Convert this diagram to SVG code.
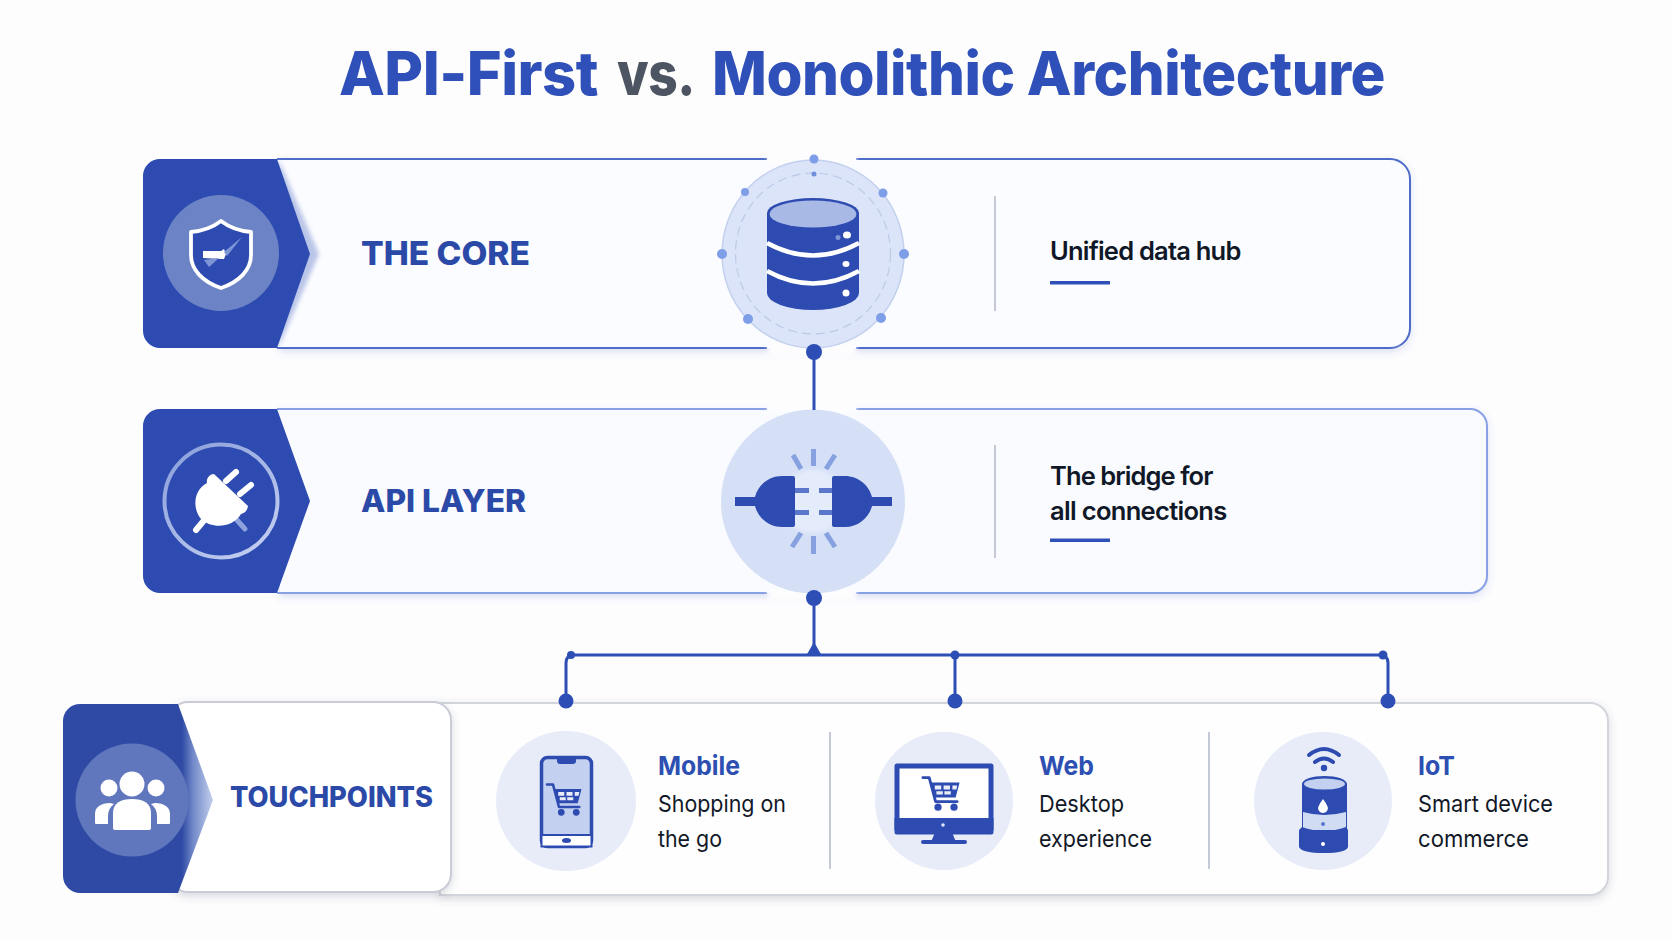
<svg xmlns="http://www.w3.org/2000/svg" width="1672" height="941" viewBox="0 0 1672 941">
<style>
text{font-family:Inter,"Liberation Sans",sans-serif}
.title{font-size:60px;font-weight:800;fill:#2f50b8;letter-spacing:-.5px}
.lab{font-weight:800;fill:#2b4aa8}
.desc{font-size:25.5px;font-weight:600;fill:#101828;letter-spacing:-.3px}
.h{font-size:26px;font-weight:700;fill:#2d4fb2}
.sub{font-size:23.5px;font-weight:400;fill:#111827}
.blue{fill:#2d4bb0}
.div{stroke:#c4c9d6;stroke-width:2}
.con{stroke:#2d4fb5;stroke-width:3;fill:none}
.dot{fill:#2d4fb5}
.nd{fill:#7f9ee8}
.ray{stroke:#86a0e0;stroke-width:5;stroke-linecap:butt}
.und{fill:#2f50b8}
.gap{fill:#fdfdfe}
</style>
<defs>
<filter id="sh" x="-5%" y="-10%" width="110%" height="125%"><feDropShadow dx="0" dy="3" stdDeviation="4" flood-color="#3f5cb8" flood-opacity=".22"/></filter>
<filter id="sg" x="-5%" y="-10%" width="110%" height="125%"><feDropShadow dx="0" dy="3" stdDeviation="4" flood-color="#50566a" flood-opacity=".22"/></filter>
<filter id="b2" x="-20%" y="-60%" width="140%" height="220%"><feGaussianBlur stdDeviation="2"/></filter>
<linearGradient id="fade" gradientUnits="userSpaceOnUse" x1="182" y1="0" x2="213" y2="0"><stop offset="0" stop-color="#2f4aa4"/><stop offset=".35" stop-color="#7088c8"/><stop offset="1" stop-color="#c3cfec"/></linearGradient>
<linearGradient id="ring" gradientUnits="userSpaceOnUse" x1="180" y1="450" x2="262" y2="552"><stop offset="0" stop-color="#8ea2dc"/><stop offset="1" stop-color="#c2cdf0"/></linearGradient>
<g id="cart">
<path d="M-24-18h8l8 30h27" fill="none" stroke="#2d4bb0" stroke-width="3.5" stroke-linecap="round" stroke-linejoin="round"/>
<path d="M-14-12h36l-5 19h-26z" fill="#2d4bb0"/>
<path d="M-9-8h8v5h-8zM2-8h8v5h-8zM13-8h6l-1 5h-5zM-7-1h8v4h-8zM3-1h8v4h-8z" fill="#fff" opacity=".9"/>
<circle cx="-5" cy="19" r="4.500" fill="#2d4bb0"/><circle cx="15" cy="19" r="4.500" fill="#2d4bb0"/>
</g>
</defs>
<rect width="1672" height="941" fill="#fdfdfe"/>

<g id="title">
<text class="title" x="339" y="95" textLength="259" lengthAdjust="spacingAndGlyphs">API-First</text>
<text class="title" x="617" y="95" style="fill:#4d5563" textLength="78" lengthAdjust="spacingAndGlyphs">vs.</text>
<text class="title" x="712" y="95" textLength="673" lengthAdjust="spacingAndGlyphs">Monolithic Architecture</text>
</g>

<g id="node-core">
<path d="M280 159H1390a20 20 0 0 1 20 20V328a20 20 0 0 1-20 20H280z" fill="#fbfcff" filter="url(#sh)"/>
<path d="M767 159H277M277 348H767M856 159H1390a20 20 0 0 1 20 20V328a20 20 0 0 1-20 20H856" fill="none" stroke="#4f6cc8" stroke-width="2"/>
<rect class="gap" x="768" y="153" width="88" height="11" filter="url(#b2)"/>
<rect class="gap" x="768" y="343" width="88" height="13" filter="url(#b2)"/>
<path d="M279 160L319 254L279 347z" fill="#b9c5e8" filter="url(#b2)"/>
<path d="M160 159H277L310 254L277 348H160a17 17 0 0 1-17-17V176a17 17 0 0 1 17-17z" class="blue"/>
<circle cx="221" cy="253" r="58" fill="#6c84c6"/>
<path d="M221 221c9 7 19 10 30 11v23c0 15-12 27-30 33c-18-6-30-18-30-33v-23c11-1 21-4 30-11z" fill="#2d4bb0" stroke="#fff" stroke-width="3.800" stroke-linejoin="round"/>
<path d="M203 251h18l3-2 2 5-2 5h-3l-18-1z" fill="#fff"/><path d="M224 252l18-15-15 19z" fill="#7f96d6"/><path d="M204 260l15-2-10 9z" fill="#7f96d6"/>
<text class="lab" x="361" y="265" font-size="33" textLength="169" lengthAdjust="spacingAndGlyphs">THE CORE</text>
<ellipse cx="813" cy="254" rx="91" ry="94" fill="#dbe4f8" stroke="#c3d0ee" stroke-width="1.500"/>
<ellipse cx="813" cy="253.500" rx="77.500" ry="80.500" fill="none" stroke="#bccae8" stroke-width="1.200" stroke-dasharray="9 5"/>
<g class="nd">
<circle cx="814" cy="159" r="4.500"/><circle cx="814" cy="174" r="2.500" fill="#6f8fdc"/><circle cx="745" cy="192" r="4"/><circle cx="883" cy="193" r="4.500"/><circle cx="722" cy="254" r="5"/><circle cx="904" cy="254" r="5"/><circle cx="748" cy="319" r="5"/><circle cx="881" cy="318" r="5"/>
</g>
<path d="M767 213a46 15 0 0 1 92 0V293a46 17 0 0 1-92 0z" class="blue"/>
<ellipse cx="813" cy="214" rx="43.500" ry="13.500" fill="#a9b9e6"/>
<path d="M767 243q46 25 92 0M767 271q46 25 92 0" fill="none" stroke="#fff" stroke-width="4.500"/>
<ellipse cx="847" cy="235" rx="4" ry="3.500" fill="#fff"/><circle cx="838" cy="237.500" r="2.500" fill="#7f96d6"/><ellipse cx="846" cy="264" rx="3.500" ry="3" fill="#fff"/><ellipse cx="846" cy="293" rx="3.500" ry="3.500" fill="#fff"/>
<line class="div" x1="995" y1="196" x2="995" y2="311"/>
<text class="desc" x="1050" y="260" textLength="191">Unified data hub</text>
<rect class="und" x="1050" y="281" width="60" height="3.500"/>
</g>

<g id="node-api">
<path d="M280 409H1470a17 17 0 0 1 17 17V576a17 17 0 0 1-17 17H280z" fill="#f9fbff" filter="url(#sh)"/>
<path d="M767 409H277M277 593H767M856 409H1470a17 17 0 0 1 17 17V576a17 17 0 0 1-17 17H856" fill="none" stroke="#88a0e4" stroke-width="2"/>
<rect class="gap" x="768" y="403" width="88" height="11" filter="url(#b2)"/>
<rect class="gap" x="768" y="588" width="88" height="13" filter="url(#b2)"/>
<path d="M160 409H277L310 501L277 593H160a17 17 0 0 1-17-17V426a17 17 0 0 1 17-17z" class="blue"/>
<circle cx="221" cy="501" r="56.500" fill="none" stroke="url(#ring)" stroke-width="4"/>
<g stroke="#fff" stroke-width="6" stroke-linecap="round">
<line x1="226" y1="481" x2="236" y2="472"/><line x1="240" y1="494" x2="251" y2="485"/><line x1="206" y1="518" x2="196" y2="530"/>
</g>
<line x1="236" y1="519" x2="245" y2="529" stroke="#8ea3de" stroke-width="5" stroke-linecap="round"/>
<path d="M214 474L248 506C247 512 244 513 241 514C232 529 211 528 202 520C192 510 193 490 207 483C206 478 210 474 214 474z" fill="#fff"/>
<text class="lab" x="361" y="512" font-size="31" textLength="165" lengthAdjust="spacingAndGlyphs">API LAYER</text>
<circle cx="813" cy="501.500" r="92" fill="#d5e0f7"/>
<circle cx="813" cy="501.500" r="32" fill="#e4ebfa" filter="url(#b2)"/>
<path d="M735 497h20c3-12 14-21 27-21h11q2 0 2 2v47q0 2-2 2h-11c-13 0-24-9-27-21h-20z" class="blue"/>
<path d="M892 497h-20c-3-12-14-21-27-21h-11q-2 0-2 2v47q0 2 2 2h11c13 0 24-9 27-21h20z" class="blue"/>
<path d="M795 488h14v5h-14zM795 510h14v5h-14z" fill="#5a77cc"/>
<path d="M819 488h13v5h-13zM819 510h13v5h-13z" fill="#5a77cc"/>
<g class="ray">
<line x1="813.500" y1="449" x2="813.500" y2="466"/><line x1="793" y1="455" x2="801" y2="469"/><line x1="835" y1="455" x2="826" y2="469"/>
<line x1="813.500" y1="536" x2="813.500" y2="554"/><line x1="801" y1="533" x2="792" y2="547"/><line x1="826" y1="533" x2="835" y2="547"/>
</g>
<line class="div" x1="995" y1="445" x2="995" y2="558"/>
<text class="desc" x="1050" y="485" textLength="163">The bridge for</text>
<text class="desc" x="1050" y="520" textLength="177">all connections</text>
<rect class="und" x="1050" y="538.500" width="60" height="3.500"/>
</g>

<g id="node-touchpoints">
<path d="M440 703H1590a18 18 0 0 1 18 18V877a18 18 0 0 1-18 18H440z" fill="#fefefe" stroke="#d2d5db" stroke-width="2" filter="url(#sg)"/>
<rect x="170" y="702" width="281" height="190" rx="18" fill="#fff" stroke="#c9ccd6" stroke-width="2" filter="url(#sg)"/>
<path d="M80 704H178L213 800L178 893H80a17 17 0 0 1-17-17V721a17 17 0 0 1 17-17z" fill="url(#fade)"/>
<circle cx="132" cy="800" r="56.500" fill="#6077bd"/>
<g fill="#fff">
<circle cx="132" cy="784" r="12.500"/><circle cx="109" cy="788" r="8.500"/><circle cx="156" cy="788" r="8.500"/>
<path d="M113 828v-15c0-10 8-14 19-14s19 4 19 14v15q0 2-2 2h-34q-2 0-2-2z"/>
<path d="M95 823v-9c0-7 6-11 15-11l4 1c-4 3-6 7-6 12v8h-12q-1 0-1-1z"/>
<path d="M170 823v-9c0-7-6-11-15-11l-4 1c4 3 6 7 6 12v8h12q1 0 1-1z"/>
</g>
<text class="lab" x="230" y="807" font-size="28" textLength="203" lengthAdjust="spacingAndGlyphs">TOUCHPOINTS</text>
</g>

<g id="node-mobile">
<circle cx="566" cy="801" r="70" fill="#e7ecf8"/>
<rect x="541.500" y="757.500" width="50" height="89" rx="6" fill="#c3d0ef" stroke="#2d4bb0" stroke-width="3.500"/>
<path d="M557 757h19v4q0 3-3 3h-13q-3 0-3-3z" class="blue"/>
<rect x="541.500" y="835" width="50" height="11.500" fill="#fff" stroke="#2d4bb0" stroke-width="2"/>
<ellipse cx="566.500" cy="840.500" rx="4.500" ry="2.500" class="blue"/>
<use href="#cart" transform="translate(565 798) scale(.75)"/>
<text class="h" x="658" y="775" textLength="82" lengthAdjust="spacingAndGlyphs">Mobile</text>
<text class="sub" x="658" y="812" textLength="128" lengthAdjust="spacingAndGlyphs">Shopping on</text>
<text class="sub" x="658" y="847" textLength="64" lengthAdjust="spacingAndGlyphs">the go</text>
<line class="div" x1="830" y1="732" x2="830" y2="869"/>
</g>

<g id="node-web">
<circle cx="944" cy="801" r="69" fill="#e7ecf8"/>
<rect x="897" y="766" width="94" height="66" fill="#fff" stroke="#2d4bb0" stroke-width="5" stroke-linejoin="round"/>
<rect x="894.500" y="818" width="99" height="12" class="blue"/>
<circle cx="943" cy="825" r="1.800" fill="#dfe6f8"/>
<path d="M936 830h15l5 12h-25z" class="blue"/><rect x="921" y="840" width="46" height="4" rx="2" class="blue"/>
<use href="#cart" transform="translate(942 792) scale(.8)"/>
<text class="h" x="1039" y="775" textLength="55" lengthAdjust="spacingAndGlyphs">Web</text>
<text class="sub" x="1039" y="812" textLength="85" lengthAdjust="spacingAndGlyphs">Desktop</text>
<text class="sub" x="1039" y="847" textLength="113" lengthAdjust="spacingAndGlyphs">experience</text>
<line class="div" x1="1209" y1="732" x2="1209" y2="869"/>
</g>

<g id="node-iot">
<circle cx="1323" cy="801" r="69" fill="#e7ecf8"/>
<g fill="none" stroke="#2d4bb0" stroke-width="4" stroke-linecap="round">
<path d="M1309 755q15-12 30 0"/><path d="M1315 762q9-7 18 0"/>
</g>
<circle cx="1324" cy="768" r="3.200" class="blue"/>
<path d="M1302 784a22.500 8 0 0 1 45 0V836h-45z" class="blue"/>
<ellipse cx="1324.500" cy="784" rx="20.500" ry="5.500" fill="#c3d0ef"/>
<path d="M1303 812q21 6 43 0V830h-43z" fill="#d0dbf4"/>
<path d="M1299 830l3-3q22 8 44 0l2 3V847q-2 6-24 6t-25-6z" class="blue"/>
<path d="M1323 799q7 9 4 12a5 5 0 0 1-8 0q-3-3 4-12z" fill="#fff"/>
<circle cx="1323" cy="824" r="2" fill="#5a77cc"/><circle cx="1323" cy="844" r="2" fill="#fff"/>
<text class="h" x="1418" y="775" textLength="37" lengthAdjust="spacingAndGlyphs">IoT</text>
<text class="sub" x="1418" y="812" textLength="135" lengthAdjust="spacingAndGlyphs">Smart device</text>
<text class="sub" x="1418" y="847" textLength="111" lengthAdjust="spacingAndGlyphs">commerce</text>
</g>

<g id="connectors">
<line class="con" x1="814" y1="352" x2="814" y2="410"/>
<circle class="dot" cx="814" cy="352" r="8"/>
<line class="con" x1="814" y1="598" x2="814" y2="654"/>
<circle class="dot" cx="814" cy="598" r="8"/>
<path class="dot" d="M814 642L806 656H822z"/>
<path class="con" d="M566 701V663q0-8 8-8H1380q8 0 8 8V701M955 655V701"/>
<circle class="dot" cx="571" cy="655" r="4"/><circle class="dot" cx="955" cy="655" r="4.500"/><circle class="dot" cx="1383" cy="655" r="4.500"/>
<circle class="dot" cx="566" cy="701" r="7.500"/><circle class="dot" cx="955" cy="701" r="7.500"/><circle class="dot" cx="1388" cy="701" r="7.500"/>
</g>
</svg>
